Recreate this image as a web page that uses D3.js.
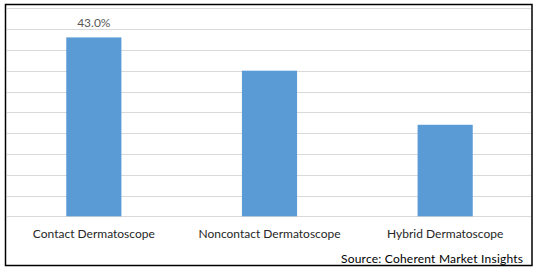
<!DOCTYPE html>
<html>
<head>
<meta charset="utf-8">
<script src="https://cdn.jsdelivr.net/npm/d3@7"></script>
<style>
  body { margin: 0; background: #fff; }
  svg text { font-family: Lato, "Open Sans", sans-serif; }
</style>
</head>
<body>
<div id="viz"></div>
<script>
// data
var categories = ["Contact Dermatoscope", "Noncontact Dermatoscope", "Hybrid Dermatoscope"];
var shares = [43.0, 35.0, 22.0];
var labelled = [true, false, false];
var gridTicks = [0, 5, 10, 15, 20, 25, 30, 35, 40, 45, 50];
var source = "Source: Coherent Market Insights";

var W = 538, H = 272;
var svg = d3.select("#viz").append("svg")
    .attr("width", W)
    .attr("height", H);

// outer frame
svg.append("rect")
    .attr("x", 5.5).attr("y", 4.5)
    .attr("width", 526.5).attr("height", 261)
    .attr("fill", "#fff")
    .attr("stroke", "#000")
    .attr("stroke-width", 1.5);

var x = d3.scaleBand()
    .domain(categories)
    .range([6, 533])
    .paddingInner(0.686)
    .paddingOuter(0.343);

var y = d3.scaleLinear()
    .domain([0, 50])
    .range([216.3, 8.3]);

// gridlines
svg.append("g")
    .selectAll("line")
    .data(gridTicks)
    .enter().append("line")
    .attr("x1", 7).attr("x2", 531)
    .attr("y1", function(d){ return Math.round(y(d)) + 0.5; })
    .attr("y2", function(d){ return Math.round(y(d)) + 0.5; })
    .attr("stroke", "#d9d9d9")
    .attr("stroke-width", 1);

// bars
svg.append("g")
    .selectAll("rect")
    .data(shares)
    .enter().append("rect")
    .attr("x", function(d, i){ return x(categories[i]); })
    .attr("width", x.bandwidth())
    .attr("y", function(d){ return y(d); })
    .attr("height", function(d){ return y(0) - y(d); })
    .attr("fill", "#5b9bd5");

// value label
svg.append("g")
    .selectAll("text")
    .data(shares.filter(function(d, i){ return labelled[i]; }))
    .enter().append("text")
    .attr("x", function(d){ return x(categories[shares.indexOf(d)]) + x.bandwidth() / 2; })
    .attr("y", function(d){ return y(d) - 10; })
    .attr("text-anchor", "middle")
    .attr("font-size", 12)
    .attr("fill", "#595959")
    .text(function(d){ return d.toFixed(1) + "%"; });

// category labels
svg.append("g")
    .selectAll("text")
    .data(categories)
    .enter().append("text")
    .attr("x", function(d){ return x(d) + x.bandwidth() / 2; })
    .attr("y", 238)
    .attr("text-anchor", "middle")
    .attr("font-size", 12)
    .attr("fill", "#262626")
    .text(function(d){ return d; });

svg.append("text")
    .attr("x", 341)
    .attr("y", 263)
    .attr("textLength", 182)
    .attr("lengthAdjust", "spacing")
    .attr("font-size", 12)
    .attr("fill", "#000")
    .text(source);
</script>
</body>
</html>
